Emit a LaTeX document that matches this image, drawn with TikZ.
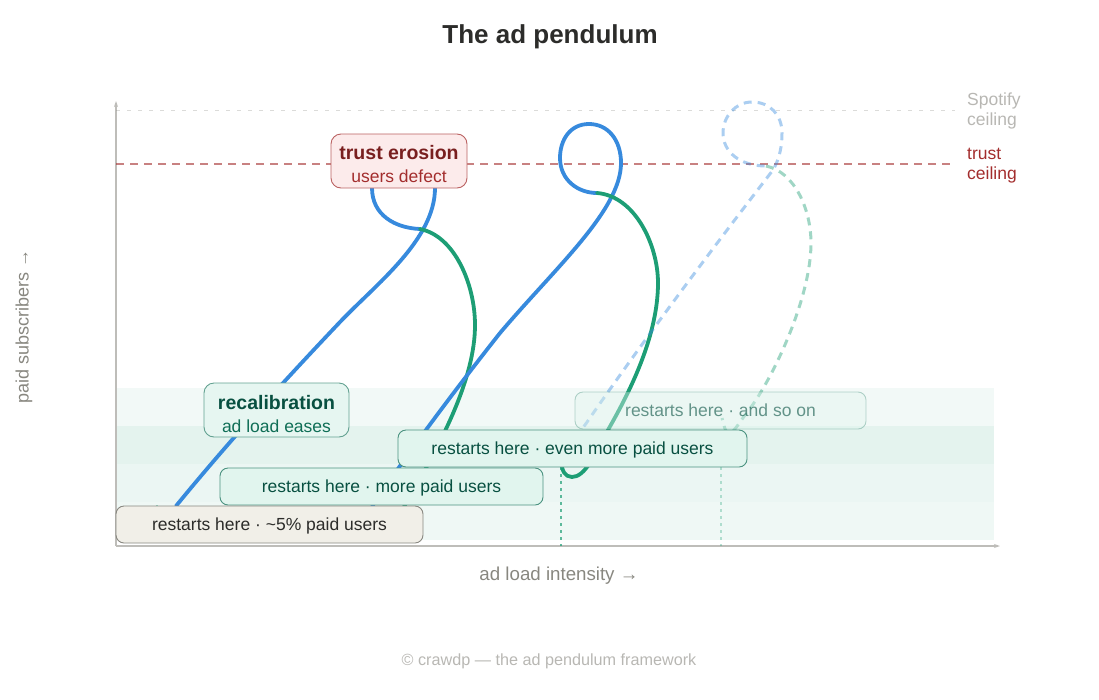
\documentclass[tikz,border=0pt]{standalone}
\usepackage{fontspec}
\setmainfont{Liberation Sans}
\usetikzlibrary{arrows.meta}
\definecolor{bluecurve}{HTML}{378ADD}
\definecolor{greencurve}{HTML}{1D9E75}
\definecolor{redline}{HTML}{A32D2D}
\definecolor{darkred}{HTML}{791F1F}
\definecolor{redfill}{HTML}{FCEBEB}
\definecolor{tealdark}{HTML}{085041}
\definecolor{tealmid}{HTML}{0F6E56}
\definecolor{tealfill}{HTML}{E1F5EE}
\definecolor{tanfill}{HTML}{F1EFE8}
\definecolor{tandark}{HTML}{2C2C2A}
\definecolor{axisgrey}{HTML}{888780}
\tikzset{
  solidblue/.style={draw=bluecurve,line width=3.8pt,line cap=round,line join=round},
  solidgreen/.style={draw=greencurve,line width=3.8pt,line cap=round,line join=round},
  fadedblue/.style={draw=bluecurve,opacity=.42,line width=3pt,dash pattern=on 8pt off 6pt},
  fadedgreen/.style={draw=greencurve,opacity=.42,line width=3pt,dash pattern=on 8pt off 6pt},
  axisline/.style={draw=axisgrey!55,line width=1.3pt,-{Stealth[length=6pt,width=4pt]}},
  dropline/.style={draw=greencurve,line width=1.2pt,dash pattern=on 3pt off 4pt},
  restartbox/.style={rounded corners=8pt,draw=tealmid!75,line width=.9pt,fill=tealfill,
    text=tealdark,minimum height=37pt,inner sep=0pt,text height=16pt,text depth=4pt,
    font=\fontsize{17.5}{21}\selectfont},
  notebox/.style={rounded corners=10pt,line width=.9pt,minimum height=54pt,inner sep=0pt,
    align=center,font=\fontsize{17.5}{23}\selectfont},
  sidelabel/.style={anchor=west,align=left,inner sep=0pt,font=\fontsize{17.5}{20}\selectfont}
}
\begin{document}
\begin{tikzpicture}[x=1pt,y=-1pt]
  \useasboundingbox (0,0) rectangle (1099,699);
  \node (title) at (550,37) {\fontsize{26}{30}\selectfont\bfseries\color{tandark}The ad pendulum};
  % bands
  \fill[greencurve,opacity=.06] (116,388) rectangle (994,426);
  \fill[greencurve,opacity=.12] (116,426) rectangle (994,464);
  \fill[greencurve,opacity=.09] (116,464) rectangle (994,502);
  \fill[greencurve,opacity=.07] (116,502) rectangle (994,540);
  % axes
  \coordinate (origin) at (116,546);
  \coordinate (ytop) at (116,101);
  \coordinate (xend) at (1000,546);
  \draw[axisline] (origin) -- (ytop);
  \draw[axisline] (origin) -- (xend);
  % ceilings
  \coordinate (spotifyA) at (116,110);
  \coordinate (spotifyB) at (955,110);
  \coordinate (trustA) at (116,164);
  \coordinate (trustB) at (955,164);
  \draw[axisgrey,opacity=.3,line width=.9pt,dash pattern=on 4pt off 7pt] (spotifyA) -- (spotifyB);
  \draw[redline,opacity=.6,line width=1.1pt,dash pattern=on 8pt off 6pt] (trustA) -- (trustB);
  \node[sidelabel,text=axisgrey!60] (spotify) at (967,111) {Spotify\\ceiling};
  \node[sidelabel,text=redline] (trust) at (967,166) {trust\\ceiling};
  % drop lines
  \draw[dropline,opacity=.4] (157,505) -- (157,546);
  \draw[dropline,opacity=.4] (373,505) -- (373,546);
  \draw[dropline,opacity=.7] (561,467) -- (561,546);
  \draw[dropline,opacity=.3] (721,467) -- (721,546);
  % first swing
  \draw[solidblue] (176,506) .. controls (230,440) and (285,380) .. (340,322)
    .. controls (375,285) and (435,240) .. (435,188)
    .. controls (435,150) and (372,150) .. (372,188)
    .. controls (372,215) and (395,228) .. (420,229);
  \draw[solidgreen] (420,229) .. controls (455,236) and (475,285) .. (475,325)
    .. controls (475,380) and (440,445) .. (405,505)
    .. controls (398,518) and (392,524) .. (386,524);
  % second swing
  \draw[solidblue] (386,524) .. controls (378,524) and (366,516) .. (373,505)
    .. controls (410,450) and (455,390) .. (500,333)
    .. controls (555,268) and (621,210) .. (621,163)
    .. controls (621,140) and (608,124) .. (589,124)
    .. controls (570,124) and (560,140) .. (560,158)
    .. controls (560,180) and (578,193) .. (597,193);
  \draw[solidgreen] (597,193) .. controls (635,196) and (658,245) .. (658,283)
    .. controls (658,340) and (625,400) .. (608,430)
    .. controls (595,455) and (585,477) .. (572,477)
    .. controls (565,477) and (561,470) .. (562,462);
  % third swing
  \draw[fadedblue] (562,462) .. controls (565,450) and (575,437) .. (585,425)
    .. controls (640,345) and (715,245) .. (773,170)
    .. controls (780,158) and (782,145) .. (782,133)
    .. controls (782,115) and (770,102) .. (752,102)
    .. controls (735,102) and (723,117) .. (723,133)
    .. controls (723,152) and (740,166) .. (766,166);
  \draw[fadedgreen] (766,166) .. controls (795,172) and (811,210) .. (811,243)
    .. controls (811,300) and (770,385) .. (745,415)
    .. controls (738,425) and (733,433) .. (729,433)
    .. controls (725,433) and (724,425) .. (722,418);
  % boxes
  \node[notebox,draw=redline!75,fill=redfill,minimum width=136pt] (erosion) at (399,161)
    {\rule{0pt}{21pt}\fontsize{19.5}{23}\selectfont\bfseries\color{darkred}trust erosion\\\fontsize{17.5}{23}\selectfont\mdseries\color{redline}users defect};
  \node[notebox,draw=tealmid!65,fill=tealfill!85,minimum width=145pt] (recal) at (276.5,410)
    {\rule{0pt}{22pt}\fontsize{19.5}{23}\selectfont\bfseries\color{tealdark}recalibration\\\fontsize{17.5}{23}\selectfont\mdseries\color{tealmid}ad load eases};
  \node[restartbox,opacity=.4,text opacity=.6,minimum width=291pt] (restartD) at (720.5,410.5) {restarts here · and so on};
  \node[restartbox,minimum width=349pt] (restartC) at (572.5,448.5) {restarts here · even more paid users};
  \node[restartbox,minimum width=323pt] (restartB) at (381.5,486.5) {restarts here · more paid users};
  \node[restartbox,draw=axisgrey,fill=tanfill,text=tandark,minimum width=307pt] (restartA) at (269.5,524.5) {restarts here · \textasciitilde5\% paid users};
  % labels
  \node[text=axisgrey,font=\fontsize{18.7}{22}\selectfont] (xlabel) at (559,576) {ad load intensity →};
  \node[text=axisgrey,rotate=90,font=\fontsize{18}{22}\selectfont] (ylabel) at (24,326) {paid subscribers →};
  \node[text=axisgrey!60,font=\fontsize{16.2}{19}\selectfont] (footer) at (549,661) {© crawdp — the ad pendulum framework};
\end{tikzpicture}
\end{document}
